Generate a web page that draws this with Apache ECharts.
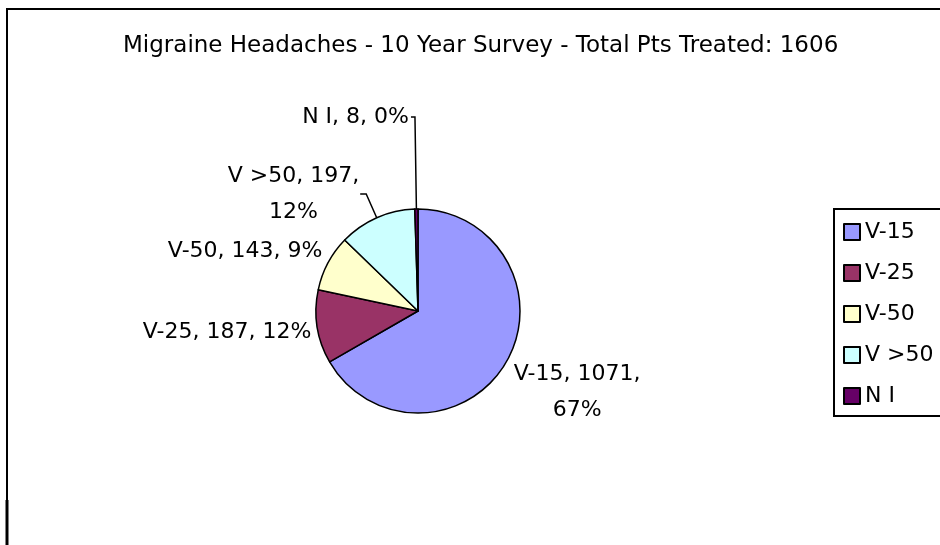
<!DOCTYPE html>
<html>
<head>
<meta charset="utf-8">
<script src="https://cdn.jsdelivr.net/npm/echarts@6/dist/echarts.min.js"></script>
<style>html,body{margin:0;padding:0;background:#fff;}#c{width:940px;height:545px;}</style>
</head>
<body>
<div id="c"></div>
<script>
var titleText = 'Migraine Headaches - 10 Year Survey - Total Pts Treated: 1606';
var categories = ['V-15', 'V-25', 'V-50', 'V >50', 'N I'];
var values = [1071, 187, 143, 197, 8];
var colors = ['#9999FF', '#993366', '#FFFFCC', '#CCFFFF', '#660066'];
var wrapped = ['V-15', 'V >50'];

var FONT = 'DejaVu Sans';
var lineCfg = {
  'V-15': {show: false, length: 4, length2: 2},
  'V-25': {show: false, length: 4, length2: 2},
  'V-50': {show: false, length: 4, length2: 2},
  'V >50': {show: true, length: 26, length2: 6},
  'N I': {show: true, length: 92, length2: 4}
};
var labelShift = {'V-15': [-3, 28], 'V-25': [5, 5], 'V-50': [5, -10], 'V >50': [4, 0], 'N I': [3, 0]};

var chart = echarts.init(document.getElementById('c'));
var data = categories.map(function (n, i) {
  return {
    name: n, value: values[i],
    itemStyle: {color: colors[i]},
    labelLine: lineCfg[n]
  };
});
chart.setOption({
  animation: false,
  title: {
    text: titleText, left: 118, top: 30,
    textStyle: {fontFamily: FONT, fontSize: 23, fontWeight: 'normal', color: '#000'}
  },
  legend: {
    orient: 'vertical', left: 834, top: 209,
    padding: [12, 60, 9, 9], itemGap: 19,
    itemWidth: 16, itemHeight: 16, icon: 'rect',
    borderColor: '#000', borderWidth: 2,
    textStyle: {fontFamily: FONT, fontSize: 22, color: '#000'},
    data: categories
  },
  graphic: [
    {type: 'rect', shape: {x: 7, y: 9, width: 1000, height: 1000}, style: {fill: 'none', stroke: '#000', lineWidth: 2}, silent: true},
    {type: 'line', shape: {x1: 7, y1: 500, x2: 7, y2: 545}, style: {stroke: '#000', lineWidth: 3}, silent: true}
  ],
  series: [{
    type: 'pie',
    center: [418, 311], radius: 102,
    startAngle: 90, clockwise: true,
    percentPrecision: 0,
    avoidLabelOverlap: false,
    itemStyle: {borderColor: '#000', borderWidth: 1.5},
    label: {
      position: 'outside', color: '#000', fontFamily: FONT, fontSize: 22, lineHeight: 36,
      formatter: function (p) {
        var sep = wrapped.indexOf(p.name) >= 0 ? ',\n' : ', ';
        return p.name + ', ' + p.value + sep + p.percent + '%';
      }
    },
    labelLine: {lineStyle: {color: '#000', width: 1.5}, smooth: false},
    labelLayout: function (p) {
      var name = categories[p.dataIndex];
      var s = labelShift[name];
      var out = {dx: s[0], dy: s[1]};
      if (wrapped.indexOf(name) >= 0 && p.labelRect) {
        var w = p.labelRect.width;
        var rightSide = p.labelRect.x + w / 2 > 418;
        out.align = 'center';
        out.dx = s[0] + (rightSide ? w / 2 : -w / 2);
      }
      return out;
    },
    emphasis: {disabled: true},
    data: data
  }]
});
</script>
</body>
</html>
